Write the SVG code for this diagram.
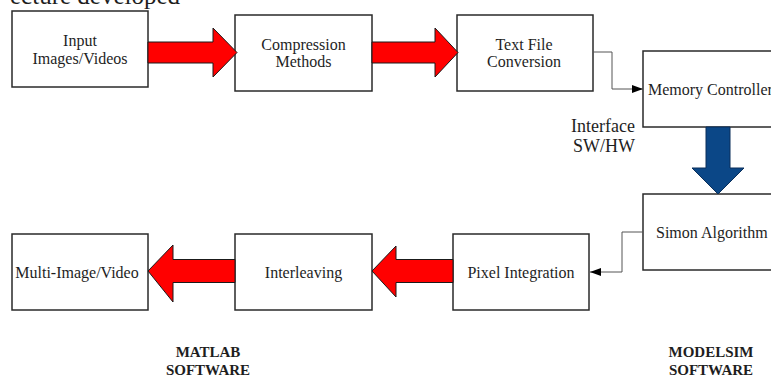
<svg xmlns="http://www.w3.org/2000/svg" width="771" height="377" viewBox="0 0 771 377">
  <style>
    .box { fill: #ffffff; stroke: #2a2a2a; stroke-width: 1.5; }
    .lbl { font-family: "Liberation Serif", "Times New Roman", serif; font-size: 16px; fill: #1e1e1e; text-anchor: middle; }
    .lbl-l { font-family: "Liberation Serif", "Times New Roman", serif; font-size: 16px; fill: #1e1e1e; text-anchor: start; }
    .side { font-family: "Liberation Serif", "Times New Roman", serif; font-size: 18px; fill: #1e1e1e; text-anchor: end; }
    .sw { font-family: "Liberation Serif", "Times New Roman", serif; font-size: 15px; font-weight: bold; fill: #1e1e1e; text-anchor: middle; }
    .red { fill: #ff0000; stroke: #1a1a1a; stroke-width: 1; stroke-linejoin: miter; }
    .blue { fill: #0b4787; stroke: #0a2f5a; stroke-width: 1; }
    .wire { fill: none; stroke: #555555; stroke-width: 1; }
  </style>
  <defs>
    <marker id="tip" markerWidth="12" markerHeight="10" refX="11" refY="5" orient="auto" markerUnits="userSpaceOnUse">
      <path d="M0,1 L11,5 L0,9 Z" fill="#000000"/>
    </marker>
  </defs>

  <!-- heading, clipped at the top edge -->
  <text x="10" y="4" font-family="Liberation Serif, Times New Roman, serif" font-size="25" fill="#1e1e1e">ecture developed</text>

  <!-- top row -->
  <g id="input">
    <rect class="box" x="12" y="11" width="136" height="76"/>
    <text class="lbl" x="80" y="46">Input</text>
    <text class="lbl" x="80" y="63.5">Images/Videos</text>
  </g>
  <g id="compression">
    <rect class="box" x="235" y="15" width="137" height="76"/>
    <text class="lbl" x="303.5" y="49.5">Compression</text>
    <text class="lbl" x="303.5" y="67">Methods</text>
  </g>
  <g id="textfile">
    <rect class="box" x="457" y="15" width="136" height="76"/>
    <text class="lbl" x="524" y="49.5">Text File</text>
    <text class="lbl" x="524" y="67">Conversion</text>
  </g>
  <g id="memory">
    <rect class="box" x="643" y="51" width="140" height="76"/>
    <text class="lbl-l" x="648" y="94.5">Memory Controller</text>
  </g>
  <g id="simon">
    <rect class="box" x="643" y="194" width="140" height="76"/>
    <text class="lbl-l" x="656" y="237.5">Simon Algorithm</text>
  </g>

  <!-- bottom row -->
  <g id="pixel">
    <rect class="box" x="453" y="234" width="136" height="76"/>
    <text class="lbl" x="521" y="277.5">Pixel Integration</text>
  </g>
  <g id="interleaving">
    <rect class="box" x="235" y="234" width="137" height="76"/>
    <text class="lbl" x="303.5" y="277.5">Interleaving</text>
  </g>
  <g id="output">
    <rect class="box" x="12" y="234" width="136" height="76"/>
    <text class="lbl" x="77" y="277.5">Multi-Image/Video</text>
  </g>

  <!-- interface caption and tool labels -->
  <g id="interface">
    <text class="side" x="635" y="132">Interface</text>
    <text class="side" x="635" y="152">SW/HW</text>
  </g>
  <g id="matlab">
    <text class="sw" x="208" y="357">MATLAB</text>
    <text class="sw" x="208" y="375">SOFTWARE</text>
  </g>
  <g id="modelsim">
    <text class="sw" x="711" y="357">MODELSIM</text>
    <text class="sw" x="711" y="375">SOFTWARE</text>
  </g>

  <g id="connectors">
    <!-- block arrows -->
    <path class="red" d="M148,42 L213,42 L213,28 L237,52.5 L213,77 L213,63 L148,63 Z"/>
    <path class="red" d="M372,42 L435,42 L435,28 L458,52.5 L435,77 L435,63 L372,63 Z"/>
    <path class="red" d="M453,259.5 L396,259.5 L396,246 L372,271 L396,297 L396,282.5 L453,282.5 Z"/>
    <path class="red" d="M235,259.5 L173,259.5 L173,245 L148,271 L173,302 L173,282.5 L235,282.5 Z"/>
    <path class="blue" d="M706,127 L706,168 L692,168 L718,194 L744,168 L730,168 L730,127 Z"/>
    <!-- thin links -->
    <path class="wire" d="M593,52 L612,52 L612,89 L643,89" marker-end="url(#tip)"/>
    <path class="wire" d="M643,232 L622,232 L622,272 L590,272" marker-end="url(#tip)"/>
  </g>
</svg>
